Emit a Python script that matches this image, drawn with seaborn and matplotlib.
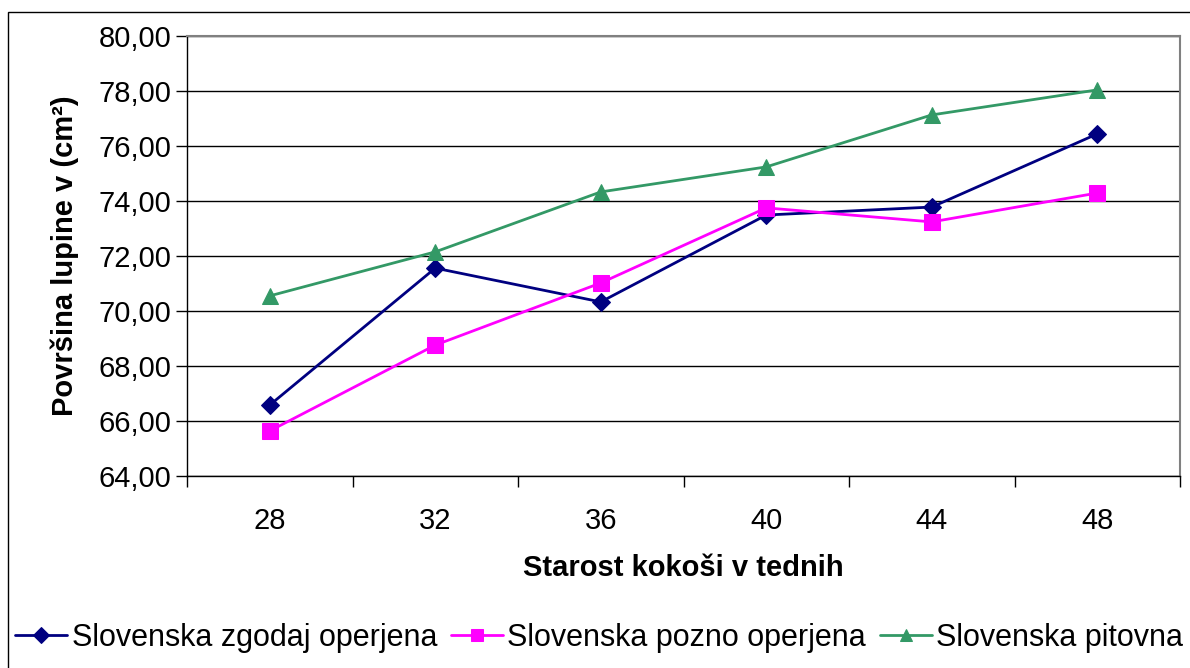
import matplotlib
matplotlib.use("Agg")
import matplotlib.pyplot as plt
from matplotlib.ticker import FuncFormatter, FixedLocator
from matplotlib.patches import Rectangle
import seaborn as sns
import pandas as pd

# Eggshell surface area by hen age for three Slovenian lines
weeks = ["28", "32", "36", "40", "44", "48"]
zgodaj = [66.58, 71.56, 70.33, 73.49, 73.78, 76.44]
pozno = [65.64, 68.76, 71.02, 73.75, 73.24, 74.29]
pitovna = [70.55, 72.15, 74.33, 75.24, 77.13, 78.04]

series_names = ["Slovenska zgodaj operjena", "Slovenska pozno operjena", "Slovenska pitovna"]
series_values = [zgodaj, pozno, pitovna]
colors = ["#000080", "#FF00FF", "#339966"]
markers = ["D", "s", "^"]
marker_sizes = [9, 11, 11]

sns.set_theme(style="white")
plt.rcParams["font.family"] = ["Liberation Sans", "DejaVu Sans"]
plt.rcParams["text.color"] = "black"
plt.rcParams["axes.labelcolor"] = "black"
plt.rcParams["xtick.color"] = "black"
plt.rcParams["ytick.color"] = "black"

FS = 21

fig = plt.figure(figsize=(11.9, 6.68), dpi=100)
ax = fig.add_axes([187 / 1190, 1 - 476 / 668, (1180 - 187) / 1190, (476 - 36) / 668])

pos = list(range(len(weeks)))
for name, vals, c, m, ms in zip(series_names, series_values, colors, markers, marker_sizes):
    df = pd.DataFrame({"x": pos, "y": vals})
    sns.lineplot(data=df, x="x", y="y", ax=ax, color=c, marker=m, markersize=ms,
                 markeredgecolor=c, linewidth=2.0, label=name)

ax.set_xlim(-0.5, len(weeks) - 0.5)
ax.set_ylim(64, 80)
ax.set_yticks([64 + 2 * i for i in range(9)])
ax.yaxis.set_major_formatter(FuncFormatter(lambda v, p: f"{v:.2f}".replace(".", ",")))
ax.yaxis.grid(True, color="black", linewidth=1.0)
ax.set_axisbelow(True)

# category labels centred, tick marks on the category boundaries
ax.set_xticks(pos)
ax.set_xticklabels(weeks)
ax.xaxis.set_minor_locator(FixedLocator([p - 0.5 for p in range(len(weeks) + 1)]))
ax.tick_params(axis="x", which="major", length=0, pad=22, labelsize=FS, labelcolor="black")
ax.tick_params(axis="x", which="minor", length=8, width=1, color="black", direction="out", bottom=True)
ax.tick_params(axis="y", which="major", length=8, width=1, color="black", direction="out",
               left=True, pad=3, labelsize=FS, labelcolor="black")

for side in ["left", "bottom"]:
    ax.spines[side].set_color("black")
    ax.spines[side].set_linewidth(1.0)
for side in ["top", "right"]:
    ax.spines[side].set_color("#808080")
    ax.spines[side].set_linewidth(1.5)

ax.set_xlabel("Starost kokoši v tednih", fontsize=FS, fontweight="bold", labelpad=14, color="black")
ax.set_ylabel("Površina lupine v (cm²)", fontsize=FS, fontweight="bold", labelpad=14, color="black")

handles, labels = ax.get_legend_handles_labels()
ax.legend_.remove()
fig.legend(handles, labels, loc="center left", bbox_to_anchor=(15 / 1190, 1 - 638 / 668),
           ncol=3, frameon=False, fontsize=22, handlelength=1.7, handletextpad=0.15,
           columnspacing=0.45, borderaxespad=0, borderpad=0, labelcolor="black",
           markerscale=0.85)

# chart area border
fig.patches.append(Rectangle((8 / 1190, -0.01), 1.0, 1 - 12 / 668 + 0.01, transform=fig.transFigure,
                             fill=False, edgecolor="black", linewidth=1.0))

fig.savefig("out.png", dpi=100, facecolor="white")
